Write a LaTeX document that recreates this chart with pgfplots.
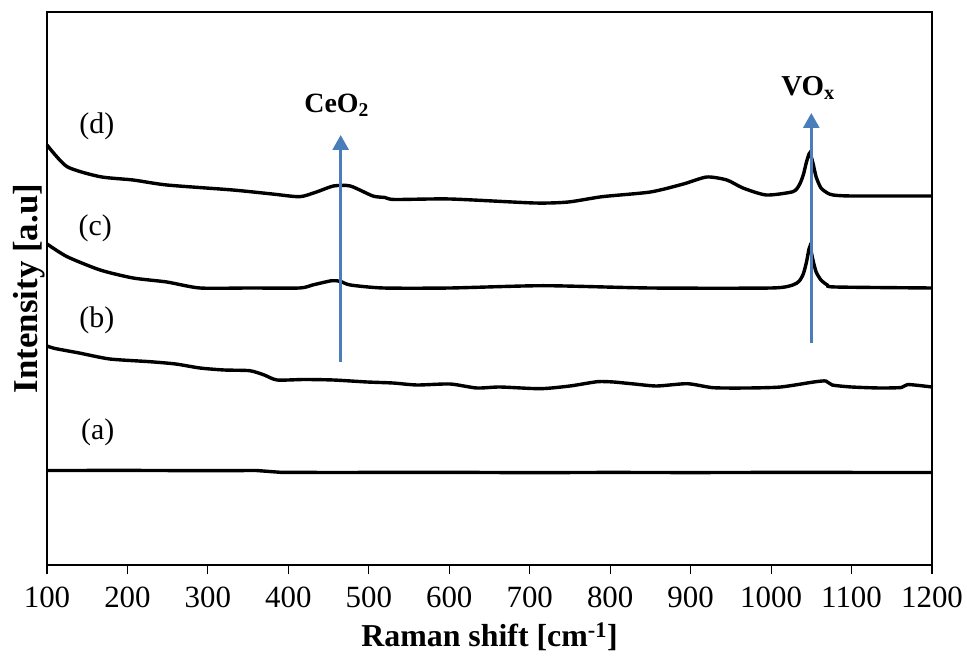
\documentclass[border=0pt]{standalone}
\usepackage{fontspec}
\setmainfont{Liberation Serif}
\usepackage{pgfplots}
\pgfplotsset{compat=1.18}
\usetikzlibrary{arrows.meta}
\definecolor{arrowblue}{HTML}{4A7EBB}

\begin{document}
\begin{tikzpicture}
\begin{axis}[
    width=885bp, height=553bp,
    scale only axis,
    at={(0,0)}, anchor=south west,
    xmin=100, xmax=1200,
    ymin=0, ymax=553,
    xtick distance=100,
    ytick=\empty,
    xtick pos=bottom,
    xtick align=outside,
    major tick length=9bp,
    axis line style={line width=1.4bp},
    tick style={line width=1.1bp, black},
    /pgf/number format/assume math mode=true,
    /pgf/number format/1000 sep={},
    tick label style={font=\fontsize{31}{34}\selectfont},
    xticklabel style={yshift=-9bp},
    xlabel={\textbf{Raman shift [cm\textsuperscript{-1}]}},
    ylabel={\textbf{Intensity [a.u]}},
    xlabel style={font=\fontsize{32}{36}\selectfont, yshift=-9bp},
    ylabel style={font=\fontsize{35}{38}\selectfont, yshift=-2bp},
    clip=false,
]
% (a)
\addplot[black, line width=3.4bp] coordinates {
    (100,94.5) (200,94.6) (300,94.3) (360,94.5) (390,92.7) (450,92.5)
    (600,92.7) (700,92.3) (800,92.6) (900,92.4) (1000,92.6) (1200,92.5)
};
% (b)
\addplot[black, line width=3.4bp, smooth, tension=0.4] coordinates {
    (100,219) (110,216.5) (140,212) (178,206) (228,203.3) (260,201) (290,197)
    (320,195) (352,194.3) (370,190) (386,185) (420,185.5) (456,185) (498,183)
    (530,182) (560,180) (601,181) (634,177) (663,178) (713,176.3) (750,179)
    (784,183.3) (804,183) (830,181) (858,179) (896,181.3) (928,177.3)
    (971,177) (1012,178) (1053,183) (1068,184) (1076,180) (1100,178)
    (1135,177) (1162,177.5) (1170,180.5) (1200,178)
};
% (c)
\addplot[black, line width=3.4bp, smooth, tension=0.4] coordinates {
    (100,321) (125,308.3) (166,295) (207,287) (249,283) (290,277) (352,277)
    (414,277) (430,280) (454,284.3) (465,283.5) (477,280) (518,277) (601,277)
    (717,279.3) (850,277) (1000,277) (1027,280) (1035,284) (1040,291)
    (1044,303) (1048,318) (1052,305) (1056,293) (1062,285) (1070,280)
    (1080,278) (1200,277)
};
% (d)
\addplot[black, line width=3.4bp, smooth, tension=0.4] coordinates {
    (100,420) (125,398.3) (166,388.3) (207,385) (249,380) (331,375) (380,371)
    (414,368.3) (435,373) (456,379) (477,379) (505,369) (520,367.5) (532,365.5)
    (601,366) (706,362) (748,363) (790,368.3) (850,373) (891,381) (920,388)
    (945,385) (965,377) (994,370) (1027,373.3) (1035,380) (1040,390)
    (1044,403) (1048,412) (1052,402) (1056,388) (1062,377) (1070,372)
    (1077,370) (1100,369) (1200,369)
};
% arrows
\addplot[arrowblue, line width=2.8bp, -{Triangle[length=15bp, width=16bp]}]
    coordinates {(465,203) (465,430)};
\addplot[arrowblue, line width=2.8bp, -{Triangle[length=15bp, width=16bp]}]
    coordinates {(1050,222) (1050,452)};
% labels
\node[font=\fontsize{30}{34}\selectfont] at (axis cs:162,439) {(d)};
\node[font=\fontsize{30}{34}\selectfont] at (axis cs:160,337) {(c)};
\node[font=\fontsize{30}{34}\selectfont] at (axis cs:162,245) {(b)};
\node[font=\fontsize{30}{34}\selectfont] at (axis cs:163,133) {(a)};
\node[font=\fontsize{28}{32}\selectfont\bfseries] at (axis cs:460,460) {CeO\textsubscript{2}};
\node[font=\fontsize{29}{33}\selectfont\bfseries] at (axis cs:1046,477) {VO\textsubscript{x}};
\end{axis}
\path[use as bounding box] (-47bp,-95bp) rectangle (920bp,565bp);
\end{tikzpicture}
\end{document}
